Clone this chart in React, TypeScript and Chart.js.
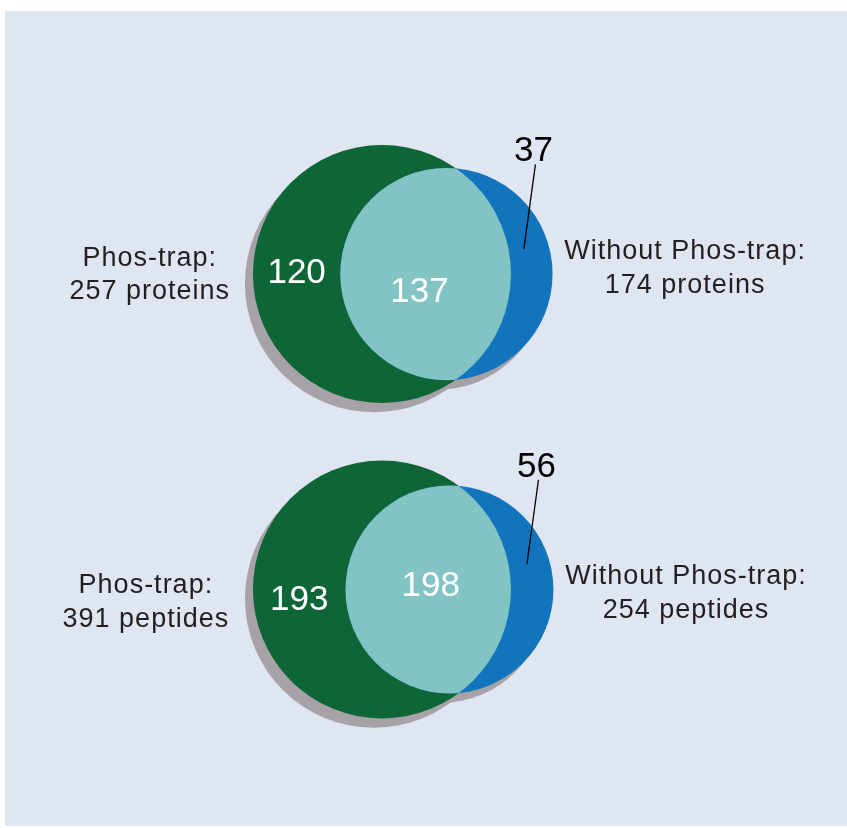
import React, { useEffect, useRef } from "react";
import { Chart, registerables } from "chart.js";

Chart.register(...registerables);

// ---- data ----
const panelUnits = ["proteins", "peptides"];
const phosOnly = [120, 193];
const sharedCounts = [137, 198];
const withoutOnly = [37, 56];
const setNames = ["Phos-trap:", "Without Phos-trap:"];

// ---- layout (units of the larger circle's radius) ----
const panelCenterY = [2.039, 4.484];
const leftLabelX = [-1.8, -1.83];
const leftBaselines = [
  [-0.062, 0.194],
  [0.027, 0.291],
];
const rightLabelX = [2.35, 2.357];
const rightBaselines = [
  [-0.116, 0.147],
  [-0.043, 0.221],
];
const onlyNudgeY = [-0.031, 0.066];
const sharedNudge = [
  [-0.047, 0.116],
  [0.02, -0.05],
];
const calloutLineFrom = [0.6, -0.195];
const calloutLineTo = [0.69, -0.85];
const calloutText = [0.675, -0.97];
const shadowOffset = [-0.062, 0.072];

const COLORS = {
  panel: "#dfe5f1",
  green: "#0e6637",
  blue: "#1174bc",
  lens: "#82c4c3",
  shadow: "#a7a2a8",
  label: "#231f20",
};

function lensArea(d: number, r1: number, r2: number) {
  if (d >= r1 + r2) return 0;
  if (d <= Math.abs(r1 - r2)) return Math.PI * Math.min(r1, r2) ** 2;
  const a = r1 * r1 * Math.acos((d * d + r1 * r1 - r2 * r2) / (2 * d * r1));
  const b = r2 * r2 * Math.acos((d * d + r2 * r2 - r1 * r1) / (2 * d * r2));
  const c =
    0.5 *
    Math.sqrt((-d + r1 + r2) * (d + r1 - r2) * (d - r1 + r2) * (d + r1 + r2));
  return a + b - c;
}

function solveDistance(r1: number, r2: number, target: number) {
  let lo = Math.abs(r1 - r2);
  let hi = r1 + r2;
  for (let k = 0; k < 80; k++) {
    const mid = (lo + hi) / 2;
    if (lensArea(mid, r1, r2) > target) lo = mid;
    else hi = mid;
  }
  return (lo + hi) / 2;
}

function geometry(i: number) {
  const a = phosOnly[i] + sharedCounts[i];
  const b = withoutOnly[i] + sharedCounts[i];
  const r1 = 1;
  const r2 = Math.sqrt(b / a);
  const d = solveDistance(r1, r2, (sharedCounts[i] / a) * Math.PI);
  return { a, b, r1, r2, d };
}

const vennPlugin = {
  id: "venn",
  beforeDraw(chart: any) {
    const { ctx, chartArea } = chart;
    ctx.save();
    ctx.fillStyle = COLORS.panel;
    ctx.fillRect(
      chartArea.left,
      chartArea.top,
      chartArea.right - chartArea.left,
      chartArea.bottom - chartArea.top
    );
    ctx.restore();
  },
  afterDatasetsDraw(chart: any) {
    const { ctx } = chart;
    const xs = chart.scales.x;
    const ys = chart.scales.y;
    const px = (v: number) => xs.getPixelForValue(v);
    const py = (v: number) => ys.getPixelForValue(v);
    const unit = px(1) - px(0);

    const circle = (cx: number, cy: number, r: number) => {
      ctx.beginPath();
      ctx.arc(px(cx), py(cy), r * unit, 0, Math.PI * 2);
      ctx.closePath();
    };

    ctx.save();
    for (let i = 0; i < panelUnits.length; i++) {
      const { a, b, r1, r2, d } = geometry(i);
      const cy = panelCenterY[i];

      // shadow
      ctx.fillStyle = COLORS.shadow;
      circle(shadowOffset[0], cy + shadowOffset[1], r1);
      ctx.fill();
      circle(d + shadowOffset[0], cy + shadowOffset[1], r2);
      ctx.fill();

      // circles
      ctx.fillStyle = COLORS.green;
      circle(0, cy, r1);
      ctx.fill();
      ctx.fillStyle = COLORS.blue;
      circle(d, cy, r2);
      ctx.fill();

      // lens
      ctx.save();
      circle(0, cy, r1);
      ctx.clip();
      ctx.fillStyle = COLORS.lens;
      circle(d, cy, r2);
      ctx.fill();
      ctx.restore();

      // region numbers
      ctx.font = '35px "Liberation Sans", Arial, sans-serif';
      ctx.textAlign = "center";
      ctx.textBaseline = "alphabetic";
      ctx.fillStyle = "#ffffff";
      const capHalf = 0.358 * 35;
      const onlyX = (-r1 + (d - r2)) / 2;
      ctx.fillText(
        String(phosOnly[i]),
        px(onlyX),
        py(cy + onlyNudgeY[i]) + capHalf
      );
      const lensX = (d - r2 + r1) / 2 + sharedNudge[i][0];
      ctx.fillText(
        String(sharedCounts[i]),
        px(lensX),
        py(cy + sharedNudge[i][1]) + capHalf
      );

      // callout for the "without only" region
      ctx.strokeStyle = "#000000";
      ctx.lineWidth = 1.3;
      ctx.beginPath();
      ctx.moveTo(px(d + calloutLineFrom[0]), py(cy + calloutLineFrom[1]));
      ctx.lineTo(px(d + calloutLineTo[0]), py(cy + calloutLineTo[1]));
      ctx.stroke();
      ctx.fillStyle = "#000000";
      ctx.fillText(
        String(withoutOnly[i]),
        px(d + calloutText[0]),
        py(cy + calloutText[1]) + capHalf
      );

      // set labels
      ctx.font = '27px "Liberation Sans", Arial, sans-serif';
      (ctx as any).letterSpacing = "1px";
      ctx.fillStyle = COLORS.label;
      ctx.fillText(setNames[0], px(leftLabelX[i]), py(cy + leftBaselines[i][0]));
      ctx.fillText(
        `${a} ${panelUnits[i]}`,
        px(leftLabelX[i]),
        py(cy + leftBaselines[i][1])
      );
      ctx.fillText(
        setNames[1],
        px(rightLabelX[i]),
        py(cy + rightBaselines[i][0])
      );
      ctx.fillText(
        `${b} ${panelUnits[i]}`,
        px(rightLabelX[i]),
        py(cy + rightBaselines[i][1])
      );
      (ctx as any).letterSpacing = "0px";
    }
    ctx.restore();
  },
};

export default function App() {
  const canvasRef = useRef<HTMLCanvasElement | null>(null);

  useEffect(() => {
    const canvas = canvasRef.current;
    if (!canvas) return;
    const geoms = panelUnits.map((_, i) => geometry(i));
    const chart = new Chart(canvas, {
      type: "scatter",
      data: {
        datasets: [
          {
            label: setNames[0],
            data: panelCenterY.map((y) => ({ x: 0, y })),
            pointRadius: 0,
            backgroundColor: COLORS.green,
          },
          {
            label: setNames[1],
            data: panelCenterY.map((y, i) => ({ x: geoms[i].d, y })),
            pointRadius: 0,
            backgroundColor: COLORS.blue,
          },
        ],
      },
      options: {
        responsive: false,
        animation: false,
        layout: { padding: { left: 5, top: 11, right: 0, bottom: 2 } },
        scales: {
          x: { type: "linear", min: -2.922, max: 3.605, display: false },
          y: {
            type: "linear",
            min: 0,
            max: 6.318,
            reverse: true,
            display: false,
          },
        },
        plugins: {
          legend: { display: false },
          tooltip: { enabled: false },
        },
      },
      plugins: [vennPlugin],
    });
    return () => chart.destroy();
  }, []);

  return (
    <div
      style={{
        position: "fixed",
        left: 0,
        top: 0,
        width: 847,
        height: 828,
        background: "#ffffff",
      }}
    >
      <canvas
        ref={canvasRef}
        width={847}
        height={828}
        style={{ display: "block", width: 847, height: 828 }}
      />
    </div>
  );
}
